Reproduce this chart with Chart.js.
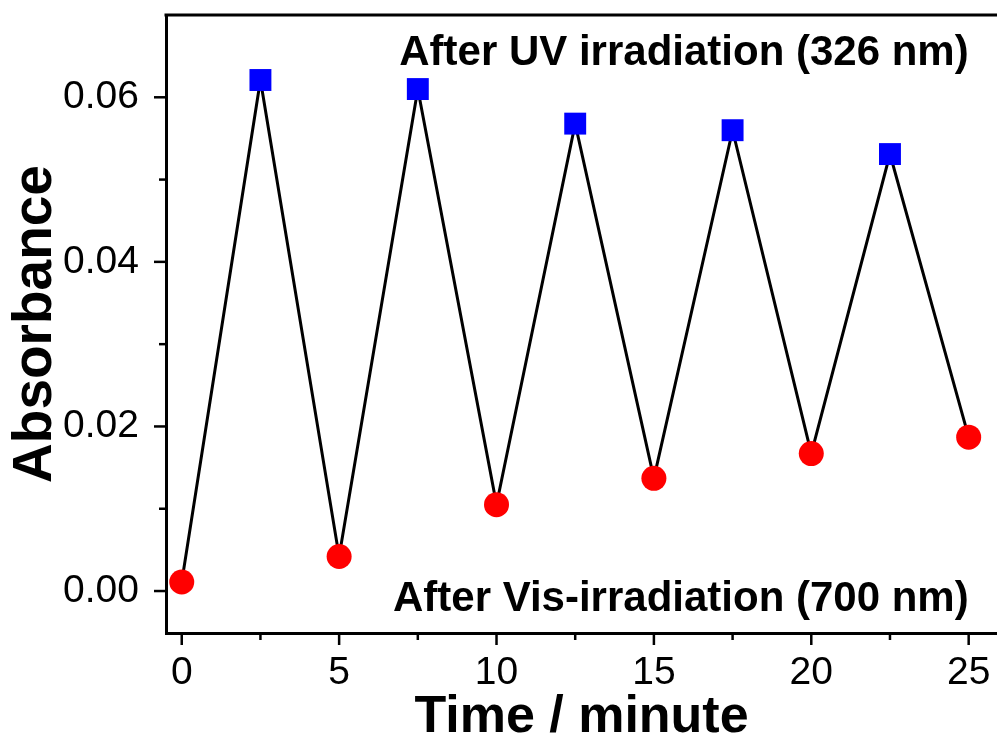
<!DOCTYPE html>
<html>
<head>
<meta charset="utf-8">
<script src="https://cdn.jsdelivr.net/npm/chart.js@4"></script>
<style>
    html, body { margin: 0; padding: 0; background: #fff; }
    #wrap { width: 997px; height: 740px; }
</style>
</head>
<body>
<div id="wrap"><canvas id="chart" width="997" height="740"></canvas></div>
<script>
// points after visible light (red circles) and after UV (blue squares)
const timeVis = [0, 5, 10, 15, 20, 25];
const absVis = [0.0011, 0.0042, 0.0105, 0.0137, 0.0167, 0.0187];
const timeUV = [2.5, 7.5, 12.5, 17.5, 22.5];
const absUV = [0.0621, 0.0610, 0.0568, 0.0560, 0.0531];

const xMajor = [0, 5, 10, 15, 20, 25];
const xMinor = [2.5, 7.5, 12.5, 17.5, 22.5];
const yMajor = [0, 0.02, 0.04, 0.06];
const yMinor = [0.01, 0.03, 0.05];

const labelUV = "After UV irradiation (326 nm)";
const labelVis = "After Vis-irradiation (700 nm)";

const FONT = "'Liberation Sans', Arial, sans-serif";

const visPoints = timeVis.map((t, i) => ({ x: t, y: absVis[i] }));
const uvPoints = timeUV.map((t, i) => ({ x: t, y: absUV[i] }));
// la ligne relie tous les points dans l'ordre du temps
const linePoints = [...visPoints, ...uvPoints].sort((a, b) => a.x - b.x);

// ticks extérieurs (majeurs + mineurs), trait du haut et textes
const framePlugin = {
    id: "frame",
    afterDraw(chart) {
        const ctx = chart.ctx;
        const { left, right, top, bottom } = chart.chartArea;
        const xs = chart.scales.x;
        const ys = chart.scales.y;

        ctx.save();
        ctx.strokeStyle = "#000";
        ctx.lineWidth = 3;

        ctx.beginPath();
        ctx.moveTo(left - 1.5, top);
        ctx.lineTo(right, top);
        ctx.stroke();

        ctx.lineWidth = 2.5;
        xMajor.forEach(v => {
            const p = xs.getPixelForValue(v);
            ctx.beginPath(); ctx.moveTo(p, bottom); ctx.lineTo(p, bottom + 12); ctx.stroke();
        });
        xMinor.forEach(v => {
            const p = xs.getPixelForValue(v);
            ctx.beginPath(); ctx.moveTo(p, bottom); ctx.lineTo(p, bottom + 7); ctx.stroke();
        });
        yMajor.forEach(v => {
            const p = ys.getPixelForValue(v);
            ctx.beginPath(); ctx.moveTo(left, p); ctx.lineTo(left - 12, p); ctx.stroke();
        });
        yMinor.forEach(v => {
            const p = ys.getPixelForValue(v);
            ctx.beginPath(); ctx.moveTo(left, p); ctx.lineTo(left - 7, p); ctx.stroke();
        });

        ctx.fillStyle = "#000";
        ctx.font = "bold 42px " + FONT;
        ctx.textAlign = "right";
        ctx.textBaseline = "alphabetic";
        ctx.fillText(labelUV, xs.getPixelForValue(25), ys.getPixelForValue(0.0639));
        ctx.fillText(labelVis, xs.getPixelForValue(25), ys.getPixelForValue(-0.00246));
        ctx.restore();
    }
};

new Chart(document.getElementById("chart"), {
    type: "scatter",
    data: {
        datasets: [
            {
                data: uvPoints,
                pointStyle: "rect",
                pointRadius: 15.5,
                pointHoverRadius: 15.5,
                backgroundColor: "#0000ff",
                borderWidth: 0
            },
            {
                data: visPoints,
                pointStyle: "circle",
                pointRadius: 12.5,
                pointHoverRadius: 12.5,
                backgroundColor: "#ff0000",
                borderWidth: 0
            },
            {
                type: "line",
                data: linePoints,
                showLine: true,
                borderColor: "#000",
                borderWidth: 3,
                pointRadius: 0,
                fill: false,
                tension: 0
            }
        ]
    },
    options: {
        responsive: false,
        animation: false,
        clip: false,
        layout: { autoPadding: false, padding: { top: 15, right: 0, left: 0, bottom: 0 } },
        plugins: {
            legend: { display: false },
            tooltip: { enabled: false }
        },
        scales: {
            x: {
                type: "linear",
                min: -0.5,
                max: 25.9,
                afterBuildTicks: s => { s.ticks = xMajor.map(v => ({ value: v })); },
                afterFit: s => {
                    s.height = 107;
                    s.paddingLeft = 0;
                    s.paddingRight = 0;
                },
                grid: { display: false, drawTicks: false },
                border: { display: true, color: "#000", width: 3 },
                ticks: {
                    color: "#000",
                    padding: 17,
                    maxRotation: 0,
                    font: { family: FONT, size: 39 },
                    callback: v => String(v)
                },
                title: {
                    display: true,
                    text: "Time / minute",
                    color: "#000",
                    padding: { top: 0, bottom: 0 },
                    font: { family: FONT, size: 52, weight: "bold", lineHeight: 0.86 }
                }
            },
            y: {
                type: "linear",
                min: -0.0051,
                max: 0.07,
                afterBuildTicks: s => { s.ticks = yMajor.map(v => ({ value: v })); },
                afterFit: s => {
                    s.width = 166;
                    s.paddingTop = 0;
                    s.paddingBottom = 0;
                },
                grid: { display: false, drawTicks: false },
                border: { display: true, color: "#000", width: 3 },
                ticks: {
                    color: "#000",
                    padding: 27,
                    font: { family: FONT, size: 39 },
                    callback: v => v.toFixed(2)
                },
                title: {
                    display: true,
                    text: "Absorbance",
                    color: "#000",
                    padding: { top: 8, bottom: 0 },
                    font: { family: FONT, size: 55, weight: "bold", lineHeight: 1 }
                }
            }
        }
    },
    plugins: [framePlugin]
});
</script>
</body>
</html>
